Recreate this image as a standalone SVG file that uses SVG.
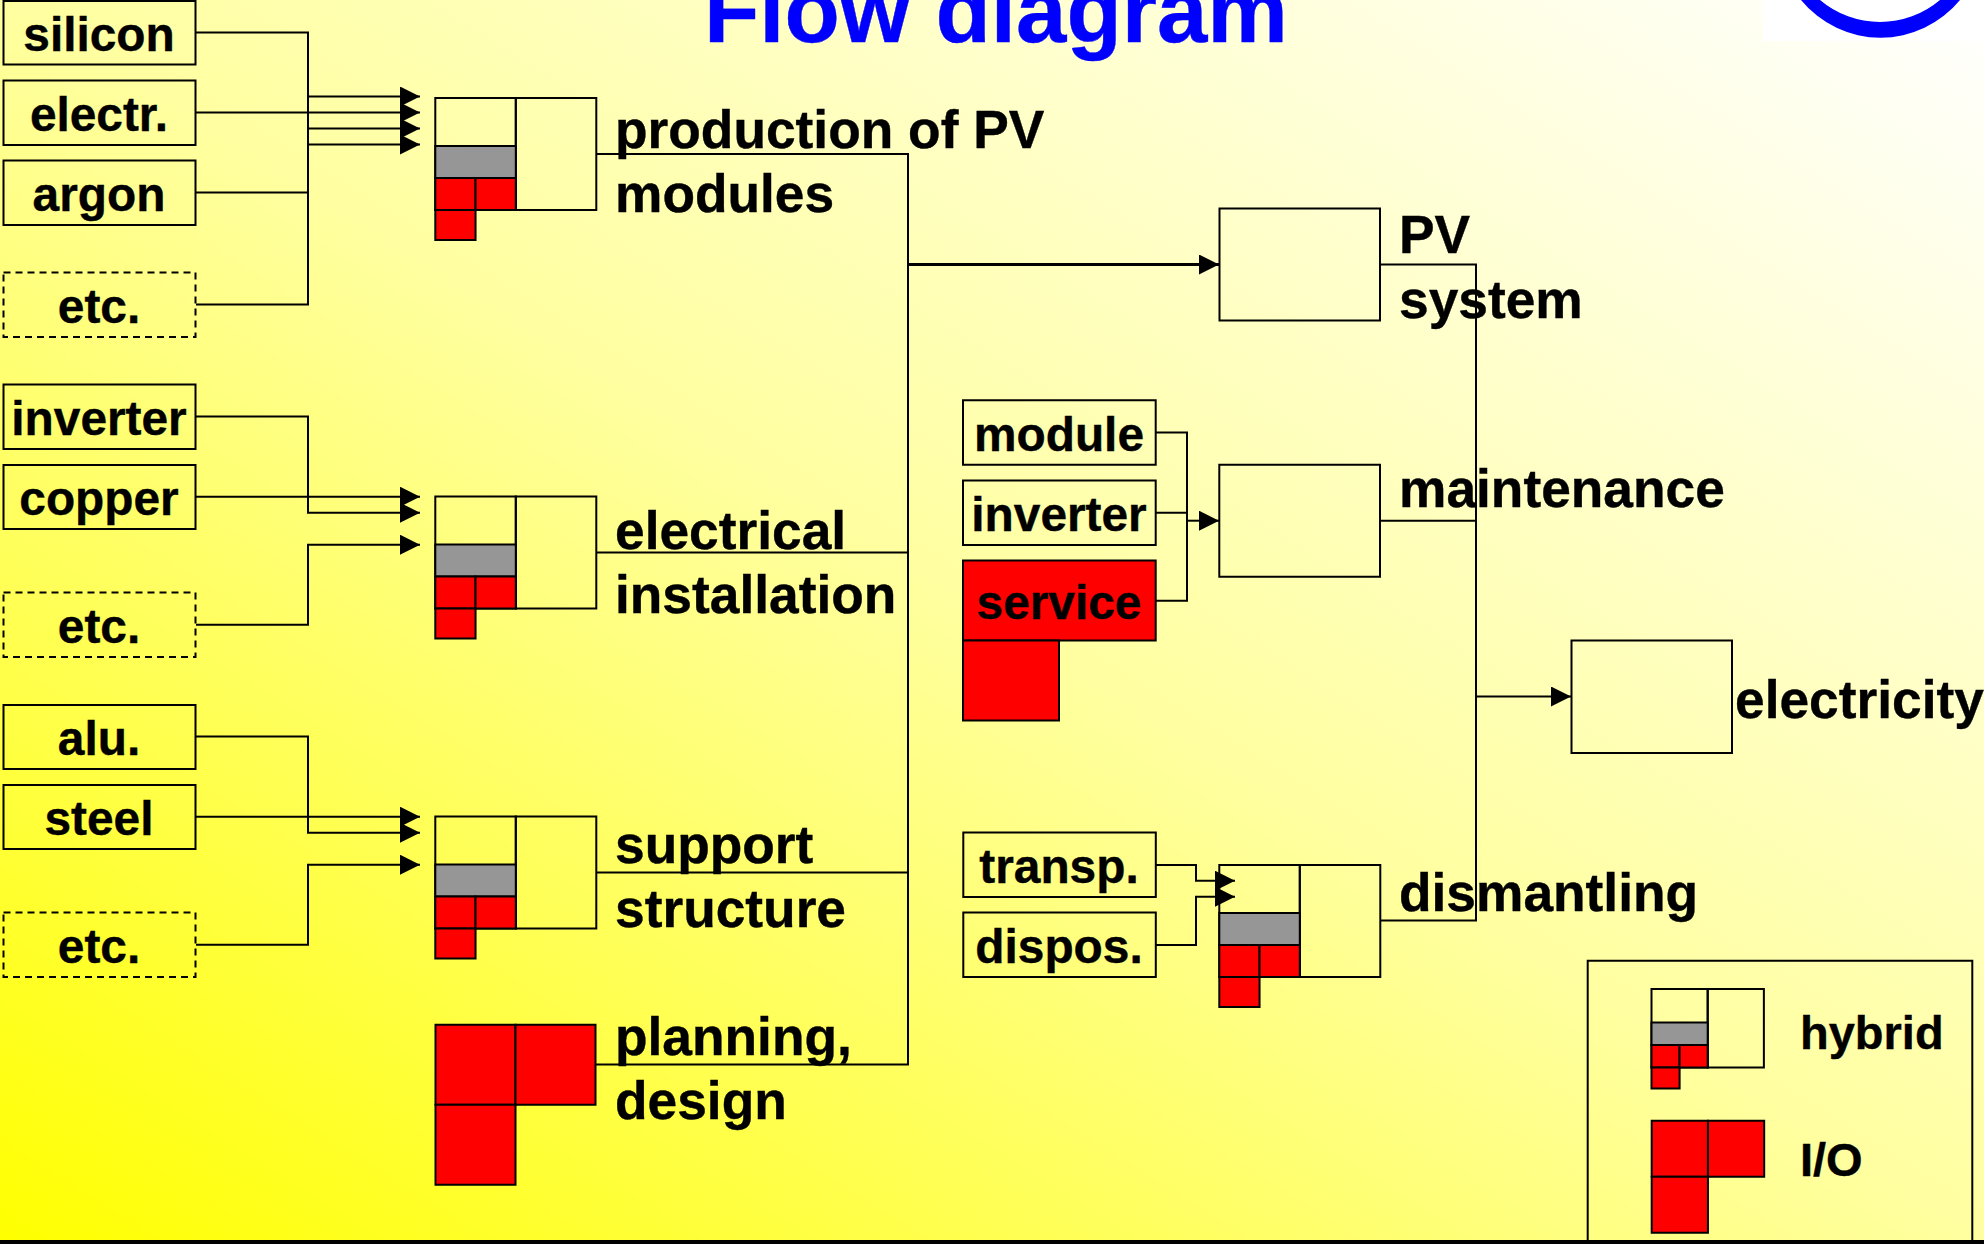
<svg xmlns="http://www.w3.org/2000/svg" width="1984" height="1244" viewBox="0 0 1984 1244">
<defs>
<linearGradient id="bg" x1="0" y1="1" x2="1" y2="0">
<stop offset="0" stop-color="#ffff00"/><stop offset="0.5" stop-color="#ffffa0"/><stop offset="1" stop-color="#ffffff"/>
</linearGradient>
<marker id="arr" viewBox="0 0 20 20" refX="20" refY="10" markerWidth="20" markerHeight="20" markerUnits="userSpaceOnUse" orient="auto"><path d="M0,0L20,10L0,20Z" fill="#000"/></marker>
<g id="hyb">
<rect x="0" y="0" width="80.500" height="112" class="b"/>
<rect x="80.500" y="0" width="80.500" height="112" class="b"/>
<rect x="0" y="48" width="80.500" height="32" class="g"/>
<rect x="0" y="80" width="40.250" height="32" class="r"/>
<rect x="40.250" y="80" width="40.250" height="32" class="r"/>
<rect x="0" y="112" width="40.250" height="30" class="r"/>
</g>
<g id="io">
<rect x="0" y="0" width="80" height="80" class="r"/>
<rect x="80" y="0" width="80" height="80" class="r"/>
<rect x="0" y="80" width="80" height="80" class="r"/>
</g>
</defs>
<style>
.b{fill:none;stroke:#000;stroke-width:2;vector-effect:non-scaling-stroke}
.r{fill:#f00;stroke:#000;stroke-width:2;vector-effect:non-scaling-stroke}
.g{fill:#969696;stroke:#000;stroke-width:2;vector-effect:non-scaling-stroke}
.d{fill:none;stroke:#000;stroke-width:2;stroke-dasharray:7 5}
.c{fill:none;stroke:#000;stroke-width:2}
.a{fill:none;stroke:#000;stroke-width:2;marker-end:url(#arr)}
text{font-family:"Liberation Sans",Arial,sans-serif;font-weight:700;fill:#000;stroke:#000;stroke-width:.4}
.s{font-size:47.800px;text-anchor:middle}
.l{font-size:53.300px}
</style>
<rect width="1984" height="1244" fill="url(#bg)"/>
<rect x="1763" y="0" width="221" height="41" fill="#fff"/>
<path id="logo" d="M1801,0A102.700,102.700 0 0 0 1960,0H1940A92.800,92.800 0 0 1 1820,0Z" fill="#00f"/>
<text id="title" x="704" y="42" font-size="90.600" style="fill:#00f;stroke:#00f">Flow diagram</text>
<g id="connectors">
<path class="c" d="M196,32.500H308V304.500H196M196,192.500H308M196,112.500H308"/>
<path class="a" d="M308,96.500H420"/><path class="a" d="M308,112.500H420"/><path class="a" d="M308,128.500H420"/><path class="a" d="M308,144.500H420"/>
<path class="a" d="M196,416.500H308V512.700H420"/>
<path class="a" d="M196,496.700H420"/>
<path class="a" d="M196,624.700H308V544.700H420"/>
<path class="a" d="M196,736.500H308V832.700H420"/>
<path class="a" d="M196,816.700H420"/>
<path class="a" d="M196,944.700H308V864.700H420"/>
<path class="c" d="M596,154H908V1064.500H596M596,552.500H908M596,872.500H908"/>
<path d="M908,264.500H1219" fill="none" stroke="#000" stroke-width="3" marker-end="url(#arr)"/>
<path class="c" d="M1380,264.500H1476V920.500H1380M1380,520.700H1476"/>
<path class="a" d="M1476,696.500H1571"/>
<path class="c" d="M1156,432.500H1187V600.700H1156M1156,512.700H1187"/>
<path class="a" d="M1187,520.700H1219"/>
<path class="a" d="M1156,865H1196V880.700H1235"/>
<path class="a" d="M1156,945H1196V896.700H1235"/>
</g>
<g id="n-silicon"><rect x="3.500" y="1" width="192" height="63.500" class="b"/><text class="s" x="99" y="51">silicon</text></g>
<g id="n-electr"><rect x="3.500" y="80.500" width="192" height="64.500" class="b"/><text class="s" x="99" y="130.500">electr.</text></g>
<g id="n-argon"><rect x="3.500" y="160.500" width="192" height="64.500" class="b"/><text class="s" x="99" y="210.500">argon</text></g>
<g id="n-etc1"><rect x="3.500" y="272.500" width="192" height="64.500" class="d"/><text class="s" x="99" y="323">etc.</text></g>
<g id="n-inverter"><rect x="3.500" y="384.500" width="192" height="64.500" class="b"/><text class="s" x="99" y="434.500">inverter</text></g>
<g id="n-copper"><rect x="3.500" y="465" width="192" height="64" class="b"/><text class="s" x="99" y="514.500">copper</text></g>
<g id="n-etc2"><rect x="3.500" y="592.500" width="192" height="64.500" class="d"/><text class="s" x="99" y="643">etc.</text></g>
<g id="n-alu"><rect x="3.500" y="705" width="192" height="64" class="b"/><text class="s" x="99" y="755">alu.</text></g>
<g id="n-steel"><rect x="3.500" y="785" width="192" height="64" class="b"/><text class="s" x="99" y="834.500">steel</text></g>
<g id="n-etc3"><rect x="3.500" y="912.500" width="192" height="64.500" class="d"/><text class="s" x="99" y="963">etc.</text></g>
<g id="n-production"><use href="#hyb" x="435.300" y="98"/><text class="l" x="615" y="148">production of PV</text><text class="l" x="615" y="212">modules</text></g>
<g id="n-electrical"><use href="#hyb" x="435.300" y="496.500"/><text class="l" x="615" y="549">electrical</text><text class="l" x="615" y="613">installation</text></g>
<g id="n-support"><use href="#hyb" x="435.300" y="816.500"/><text class="l" x="615" y="862.500">support</text><text class="l" x="615" y="926.500">structure</text></g>
<g id="n-planning"><use href="#io" x="435.500" y="1024.700"/><text class="l" x="615" y="1055">planning,</text><text class="l" x="615" y="1119">design</text></g>
<g id="n-pv"><rect x="1219.500" y="208.500" width="160.500" height="112" class="b"/><text class="l" x="1399" y="253">PV</text><text class="l" x="1399" y="318">system</text></g>
<g id="n-module"><rect x="963" y="400.300" width="192.700" height="64.500" class="b"/><text class="s" x="1059" y="451">module</text></g>
<g id="n-inverter2"><rect x="963" y="480.500" width="192.700" height="64.500" class="b"/><text class="s" x="1059" y="530.500">inverter</text></g>
<g id="n-service"><rect x="963" y="560.500" width="192.700" height="80" class="r"/><rect x="963" y="640.500" width="96" height="80" class="r"/><text class="s" x="1059" y="618.500">service</text></g>
<g id="n-maintenance"><rect x="1219.300" y="464.700" width="160.700" height="112" class="b"/><text class="l" x="1399" y="507">maintenance</text></g>
<g id="n-electricity"><rect x="1571.500" y="640.500" width="160.500" height="112.500" class="b"/><text class="l" x="1735" y="718">electricity</text></g>
<g id="n-transp"><rect x="963.300" y="832.500" width="192.500" height="64.500" class="b"/><text class="s" x="1059" y="882.500">transp.</text></g>
<g id="n-dispos"><rect x="963.300" y="912.500" width="192.500" height="64.500" class="b"/><text class="s" x="1059" y="962.500">dispos.</text></g>
<g id="n-dismantling"><use href="#hyb" x="1219.300" y="865"/><text class="l" x="1399" y="911">dismantling</text></g>
<g id="legend"><path class="c" d="M1587.700,1241V960.700H1972.300V1241"/>
<use href="#hyb" transform="translate(1651.500 989) scale(0.698 0.7)"/><text x="1800" y="1049" font-size="47">hybrid</text>
<use href="#io" transform="translate(1651.700 1120.700) scale(0.703 0.7)"/><text x="1800" y="1176" font-size="47">I/O</text></g>
<rect x="0" y="1240" width="1984" height="4" fill="#000"/>
</svg>
